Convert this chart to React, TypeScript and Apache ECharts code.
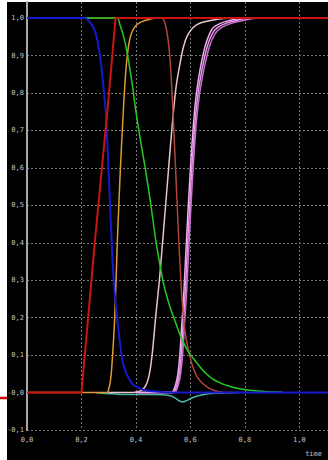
import React, { useEffect, useRef } from "react";
import * as echarts from "echarts";

const xTickLabels = ["0,0", "0,2", "0,4", "0,6", "0,8", "1,0"];
const yTickLabels = ["-0,1", "-0,0", "0,1", "0,2", "0,3", "0,4", "0,5", "0,6", "0,7", "0,8", "0,9", "1,0"];
const axisName = "time";

const blue = [[0, 1], [0.21, 1], [0.23, 0.99], [0.25, 0.965], [0.268, 0.9], [0.28, 0.82], [0.29, 0.74], [0.299, 0.6], [0.308, 0.45], [0.317, 0.31], [0.325, 0.24], [0.333, 0.185], [0.349, 0.09], [0.36, 0.06], [0.375, 0.036], [0.39, 0.021], [0.42, 0.009], [0.45, 0.004], [0.5, 0.001], [0.55, 0], [1.105, 0]];
const red = [[0, 0], [0.2, 0], [0.25, 0.41], [0.3, 0.79], [0.325, 1], [1.105, 1]];
const orange = [[0, 0], [0.294, 0], [0.3, 0.01], [0.306, 0.03], [0.311, 0.065], [0.322, 0.2], [0.332, 0.41], [0.343, 0.6], [0.352, 0.73], [0.359, 0.82], [0.366, 0.885], [0.375, 0.935], [0.385, 0.962], [0.4, 0.98], [0.42, 0.99], [0.45, 0.997], [0.48, 1], [1.105, 1]];
const green = [[0, 1], [0.33, 1], [0.342, 0.98], [0.355, 0.95], [0.367, 0.91], [0.385, 0.83], [0.397, 0.765], [0.415, 0.68], [0.434, 0.6], [0.455, 0.5], [0.472, 0.41], [0.486, 0.35], [0.5, 0.295], [0.52, 0.24], [0.544, 0.19], [0.563, 0.152], [0.59, 0.112], [0.625, 0.078], [0.655, 0.052], [0.684, 0.035], [0.715, 0.024], [0.746, 0.016], [0.78, 0.01], [0.81, 0.007], [0.87, 0.003], [0.94, 0.001]];
const brown = [[0, 1], [0.495, 1], [0.505, 0.99], [0.513, 0.965], [0.52, 0.93], [0.527, 0.87], [0.533, 0.79], [0.539, 0.7], [0.546, 0.59], [0.555, 0.44], [0.564, 0.31], [0.573, 0.21], [0.584, 0.145], [0.597, 0.1], [0.61, 0.066], [0.625, 0.042], [0.645, 0.024], [0.665, 0.013], [0.69, 0.005], [0.72, 0.001], [0.76, 0]];
const pinkWhite = [[0.3, 0], [0.39, 0], [0.405, 0.002], [0.42, 0.006], [0.432, 0.014], [0.441, 0.027], [0.448, 0.045], [0.454, 0.07], [0.46, 0.105], [0.466, 0.15], [0.472, 0.2], [0.486, 0.3], [0.501, 0.43], [0.52, 0.6], [0.535, 0.73], [0.548, 0.82], [0.562, 0.88], [0.575, 0.925], [0.59, 0.955], [0.61, 0.975], [0.636, 0.987], [0.684, 0.995], [0.75, 1], [1.0, 1]];
const violetA = [[0.4, 0], [0.528, 0], [0.537, 0.004], [0.546, 0.022], [0.554, 0.05], [0.561, 0.1], [0.568, 0.18], [0.576, 0.27], [0.587, 0.43], [0.6, 0.6], [0.612, 0.725], [0.622, 0.8], [0.636, 0.865], [0.654, 0.925], [0.67, 0.958], [0.684, 0.975], [0.71, 0.986], [0.74, 0.993], [0.8, 1], [1.0, 1]];
const violetB = [[0.4, 0], [0.533, 0], [0.542, 0.004], [0.551, 0.022], [0.559, 0.05], [0.566, 0.1], [0.573, 0.18], [0.581, 0.27], [0.592, 0.43], [0.605, 0.6], [0.617, 0.725], [0.628, 0.8], [0.643, 0.865], [0.662, 0.925], [0.68, 0.958], [0.7, 0.975], [0.73, 0.986], [0.765, 0.993], [0.82, 1], [1.0, 1]];
const violetC = [[0.4, 0], [0.538, 0], [0.547, 0.004], [0.556, 0.022], [0.564, 0.05], [0.571, 0.1], [0.578, 0.18], [0.586, 0.27], [0.597, 0.43], [0.61, 0.6], [0.622, 0.725], [0.634, 0.8], [0.65, 0.865], [0.67, 0.925], [0.69, 0.958], [0.715, 0.975], [0.75, 0.986], [0.79, 0.993], [0.85, 1], [1.0, 1]];
const teal = [[0.25, 0], [0.3, -0.003], [0.35, -0.005], [0.45, -0.005], [0.5, -0.006], [0.53, -0.009], [0.545, -0.015], [0.556, -0.021], [0.57, -0.025], [0.585, -0.022], [0.6, -0.016], [0.625, -0.009], [0.66, -0.004], [0.69, -0.002], [0.78, 0]];

const seriesDefs = [
  { name: "teal", data: teal, color: "#45b5a5", width: 1.5 },
  { name: "pinkWhite", data: pinkWhite, color: "#eac4cc", width: 1.5 },
  { name: "violetC", data: violetC, color: "#c870d0", width: 1.5 },
  { name: "violetB", data: violetB, color: "#e696e6", width: 1.5 },
  { name: "violetA", data: violetA, color: "#f0a8ee", width: 1.5 },
  { name: "brown", data: brown, color: "#b04438", width: 1.5 },
  { name: "orange", data: orange, color: "#e09a30", width: 1.5 },
  { name: "green", data: green, color: "#22cc22", width: 1.5 },
  { name: "blue", data: blue, color: "#1818d0", width: 2 },
  { name: "red", data: red, color: "#cc1414", width: 2, straight: true },
];

const labelColor = "#c4c4c4";
const labelFont = { fontSize: 7, fontFamily: "DejaVu Sans Mono" };

export default function App() {
  const ref = useRef<HTMLDivElement>(null);
  useEffect(() => {
    if (!ref.current) return;
    const chart = echarts.init(ref.current, null, { renderer: "svg" });
    const grid = "#787878";
    chart.setOption({
      animation: false,
      backgroundColor: "#ffffff",
      textStyle: { color: labelColor },
      grid: { left: 27, right: 0, top: 2, bottom: 30 },
      xAxis: {
        type: "value",
        min: 0,
        max: 1.105,
        interval: 0.2,
        axisLine: { show: false, lineStyle: { color: labelColor } },
        axisTick: { show: false },
        splitLine: { show: true, showMinLine: false, showMaxLine: false, lineStyle: { color: grid, type: [2, 2], width: 1 } },
        axisLabel: {
          ...labelFont,
          color: labelColor,
          margin: 6,
          showMaxLabel: false,
          formatter: (v: number) => {
            const i = Math.round(v / 0.2);
            if (Math.abs(v - i * 0.2) > 1e-6) return "";
            return xTickLabels[i] ?? "";
          },
        },
      },
      yAxis: {
        type: "value",
        min: -0.1,
        max: 1.043,
        interval: 0.1,
        axisLine: { show: true, lineStyle: { color: "#a8a8a8", width: 2 } },
        axisTick: { show: false },
        splitLine: { show: true, showMaxLine: false, lineStyle: { color: grid, type: [2, 2], width: 1 } },
        axisLabel: {
          ...labelFont,
          color: labelColor,
          margin: 3,
          showMaxLabel: false,
          formatter: (v: number) => {
            const i = Math.round((v + 0.1) / 0.1);
            if (Math.abs(v - (i * 0.1 - 0.1)) > 1e-6) return "";
            return yTickLabels[i] ?? "";
          },
        },
      },
      graphic: [
        { type: "rect", z: -100, silent: true, shape: { x: 7, y: 2, width: 321, height: 458 }, style: { fill: "#000000" } },
        { type: "line", z: 10, silent: true, shape: { x1: 0, y1: 398, x2: 7, y2: 398 }, style: { stroke: "#d00000", lineWidth: 2.5 } },
        { type: "text", z: 10, silent: true, x: 322, y: 454, style: { text: axisName, fill: labelColor, fontSize: 7, fontFamily: "DejaVu Sans Mono", textAlign: "right", textVerticalAlign: "middle" } },
      ],
      series: seriesDefs.map((s) => ({
        name: s.name,
        type: "line",
        data: s.data,
        showSymbol: false,
        symbol: "none",
        smooth: s.straight ? false : 0.3,
        lineStyle: { color: s.color, width: s.width },
        itemStyle: { color: s.color },
      })),
    });
    return () => chart.dispose();
  }, []);
  return <div ref={ref} style={{ position: "fixed", left: 0, top: 0, width: 328, height: 460 }} />;
}
